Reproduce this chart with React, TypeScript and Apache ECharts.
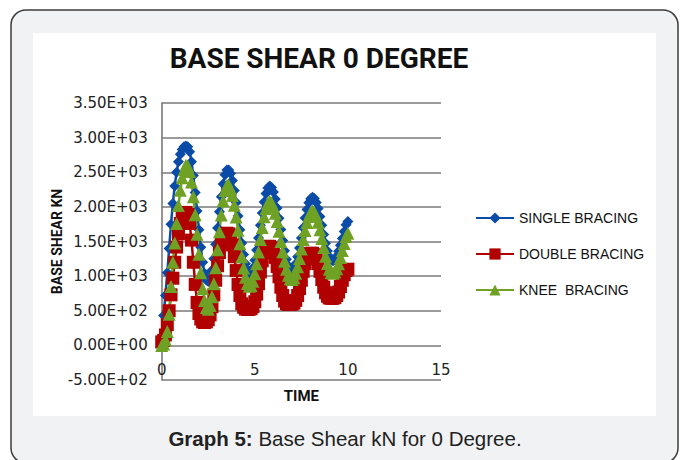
import React, { useEffect, useRef } from "react";
import * as echarts from "echarts";

const titleText = "BASE SHEAR 0 DEGREE";
const captionBold = "Graph 5:";
const captionRest = " Base Shear kN for 0 Degree.";
const xAxisName = "TIME";
const yAxisName = "BASE SHEAR KN";
const seriesNames = ["SINGLE BRACING", "DOUBLE BRACING", "KNEE  BRACING"];

const yTicks = [-500, 0, 500, 1000, 1500, 2000, 2500, 3000, 3500];
const yTickLabels = [
  "-5.00E+02", "0.00E+00", "5.00E+02", "1.00E+03", "1.50E+03",
  "2.00E+03", "2.50E+03", "3.00E+03", "3.50E+03",
];
const xTicks = [0, 5, 10, 15];

const time = [
  0, 0.1, 0.2, 0.3, 0.4, 0.5, 0.6, 0.7, 0.8, 0.9,
  1, 1.1, 1.2, 1.3, 1.4, 1.5, 1.6, 1.7, 1.8, 1.9,
  2, 2.1, 2.2, 2.3, 2.4, 2.5, 2.6, 2.7, 2.8, 2.9,
  3, 3.1, 3.2, 3.3, 3.4, 3.5, 3.6, 3.7, 3.8, 3.9,
  4, 4.1, 4.2, 4.3, 4.4, 4.5, 4.6, 4.7, 4.8, 4.9,
  5, 5.1, 5.2, 5.3, 5.4, 5.5, 5.6, 5.7, 5.8, 5.9,
  6, 6.1, 6.2, 6.3, 6.4, 6.5, 6.6, 6.7, 6.8, 6.9,
  7, 7.1, 7.2, 7.3, 7.4, 7.5, 7.6, 7.7, 7.8, 7.9,
  8, 8.1, 8.2, 8.3, 8.4, 8.5, 8.6, 8.7, 8.8, 8.9,
  9, 9.1, 9.2, 9.3, 9.4, 9.5, 9.6, 9.7, 9.8, 9.9,
  10,
];

const singleBracing = [
  0, 430, 720, 1050, 1400, 1750, 2050, 2300, 2500, 2650,
  2760, 2830, 2870, 2880, 2870, 2796, 2653, 2452, 2207, 1941,
  1671, 1418, 1201, 1041, 945, 922, 969, 1084, 1252, 1461,
  1694, 1930, 2148, 2332, 2463, 2531, 2533, 2481, 2380, 2237,
  2064, 1870, 1671, 1480, 1312, 1177, 1084, 1042, 1053, 1117,
  1228, 1376, 1550, 1735, 1913, 2071, 2194, 2273, 2300, 2279,
  2216, 2115, 1985, 1835, 1674, 1514, 1366, 1242, 1149, 1094,
  1081, 1110, 1177, 1280, 1407, 1551, 1699, 1840, 1963, 2059,
  2119, 2140, 2121, 2064, 1976, 1862, 1733, 1600, 1473, 1364,
  1282, 1232, 1221, 1240, 1287, 1358, 1445, 1544, 1646, 1743,
  1790,
];

const doubleBracing = [
  50, 70, 150, 300, 500, 730, 970, 1200, 1420, 1610,
  1760, 1860, 1910, 1920, 1890, 1760, 1520, 1200, 880, 620,
  460, 380, 340, 330, 340, 370, 440, 560, 730, 940,
  1150, 1340, 1480, 1570, 1610, 1620, 1610, 1560, 1450, 1280,
  1080, 880, 720, 600, 550, 525, 520, 520, 530, 560,
  630, 740, 890, 1060, 1220, 1340, 1410, 1430, 1430, 1410,
  1360, 1270, 1140, 990, 840, 720, 640, 600, 590, 590,
  595, 610, 650, 720, 820, 940, 1070, 1180, 1260, 1310,
  1330, 1330, 1310, 1260, 1180, 1070, 950, 840, 760, 710,
  685, 680, 680, 690, 720, 770, 850, 940, 1020, 1080,
  1100,
];

const kneeBracing = [
  0, 20, 80, 200, 450, 850, 1200, 1480, 1760, 2020,
  2240, 2420, 2540, 2600, 2590, 2511, 2359, 2146, 1886, 1604,
  1317, 1048, 818, 649, 546, 522, 575, 702, 889, 1121,
  1380, 1642, 1884, 2089, 2235, 2310, 2313, 2262, 2163, 2023,
  1853, 1663, 1468, 1281, 1116, 985, 893, 852, 863, 925,
  1033, 1178, 1348, 1528, 1702, 1857, 1977, 2054, 2080, 2060,
  2002, 1909, 1788, 1649, 1500, 1352, 1215, 1100, 1014, 963,
  951, 978, 1041, 1137, 1255, 1390, 1528, 1660, 1775, 1864,
  1921, 1940, 1921, 1866, 1779, 1668, 1542, 1412, 1288, 1181,
  1100, 1052, 1042, 1061, 1108, 1180, 1268, 1369, 1472, 1571,
  1620,
];

const BLUE = "#0b4ba8";
const RED = "#b00000";
const GREEN = "#6fa224";
const GRID = "#7a7a7a";
const FONT = "'Liberation Sans', Arial, sans-serif";
const TICKFONT = "'DejaVu Sans', 'Liberation Sans', sans-serif";
const BOLDFONT = "Roboto, 'Liberation Sans', Arial, sans-serif";

export default function App() {
  const ref = useRef<HTMLDivElement>(null);

  useEffect(() => {
    if (!ref.current) return;
    const chart = echarts.init(ref.current, undefined, { renderer: "svg" });
    const pairs = (vals: number[]) => time.map((t, i) => [t, vals[i]]);

    const option = {
      animation: false,
      backgroundColor: "#ffffff",
      graphic: [
        {
          type: "rect",
          z: -10,
          silent: true,
          shape: { x: 11, y: 10, width: 667, height: 453, r: 15 },
          style: { fill: "#f1f2f4", stroke: "#3c3c3c", lineWidth: 1.5 },
        },
        {
          type: "rect",
          z: -9,
          silent: true,
          shape: { x: 33, y: 33, width: 623, height: 383 },
          style: { fill: "#ffffff" },
        },
        {
          type: "text",
          z: 5,
          x: 319,
          y: 58,
          style: {
            text: titleText,
            fill: "#111",
            font: `bold 28px ${BOLDFONT}`,
            align: "center",
            verticalAlign: "middle",
          },
        },
        {
          type: "text",
          z: 5,
          x: 345,
          y: 438,
          style: {
            text: `{b|${captionBold}}${captionRest}`,
            fill: "#222",
            fontSize: 20.5,
            fontFamily: FONT,
            align: "center",
            verticalAlign: "middle",
            rich: {
              b: { fontWeight: "bold", fontSize: 20.5, fontFamily: FONT, fill: "#222" },
            },
          },
        },
      ],
      legend: {
        orient: "vertical",
        left: 470,
        top: 206,
        itemWidth: 38,
        itemHeight: 14,
        itemGap: 22,
        data: seriesNames,
        textStyle: { fontSize: 14, fontFamily: FONT, color: "#111" },
      },
      grid: { left: 161.7, right: 242, top: 103, bottom: 80, containLabel: false },
      xAxis: {
        type: "value",
        min: xTicks[0],
        max: xTicks[xTicks.length - 1],
        interval: 5,
        name: xAxisName,
        nameLocation: "middle",
        nameGap: 8,
        nameTextStyle: { fontSize: 15, fontWeight: "bold", fontFamily: BOLDFONT, color: "#111" },
        axisLine: { show: false },
        axisTick: { show: false },
        splitLine: { show: false },
        axisLabel: { fontSize: 15, fontFamily: TICKFONT, color: "#222", margin: -18 },
      },
      yAxis: {
        type: "value",
        min: yTicks[0],
        max: yTicks[yTicks.length - 1],
        interval: 500,
        name: yAxisName,
        nameLocation: "middle",
        nameGap: 98,
        nameRotate: 90,
        nameTextStyle: { fontSize: 14, fontWeight: "bold", fontFamily: BOLDFONT, color: "#111" },
        axisLine: { show: true, onZero: false, lineStyle: { color: GRID, width: 1.6 } },
        axisTick: { show: false },
        splitLine: { show: true, lineStyle: { color: GRID, width: 1.6 } },
        axisLabel: {
          fontSize: 15,
          fontFamily: TICKFONT,
          color: "#222",
          margin: 14,
          formatter: (v: number) => {
            const idx = yTicks.indexOf(v);
            return idx >= 0 ? yTickLabels[idx] : "";
          },
        },
      },
      series: [
        {
          name: seriesNames[0],
          type: "line",
          data: pairs(singleBracing),
          symbol: "diamond",
          symbolSize: 11,
          showAllSymbol: true,
          lineStyle: { color: BLUE, width: 2.5 },
          itemStyle: { color: BLUE },
        },
        {
          name: seriesNames[1],
          type: "line",
          data: pairs(doubleBracing),
          symbol: "rect",
          symbolSize: 13,
          showAllSymbol: true,
          lineStyle: { color: RED, width: 2.5 },
          itemStyle: { color: RED },
        },
        {
          name: seriesNames[2],
          type: "line",
          data: pairs(kneeBracing),
          symbol: "triangle",
          symbolSize: 13,
          showAllSymbol: true,
          lineStyle: { color: GREEN, width: 2.5 },
          itemStyle: { color: GREEN },
        },
      ],
    };

    chart.setOption(option as any);
    return () => chart.dispose();
  }, []);

  return (
    <div
      ref={ref}
      style={{ position: "absolute", left: 0, top: 0, width: 683, height: 460 }}
    />
  );
}
